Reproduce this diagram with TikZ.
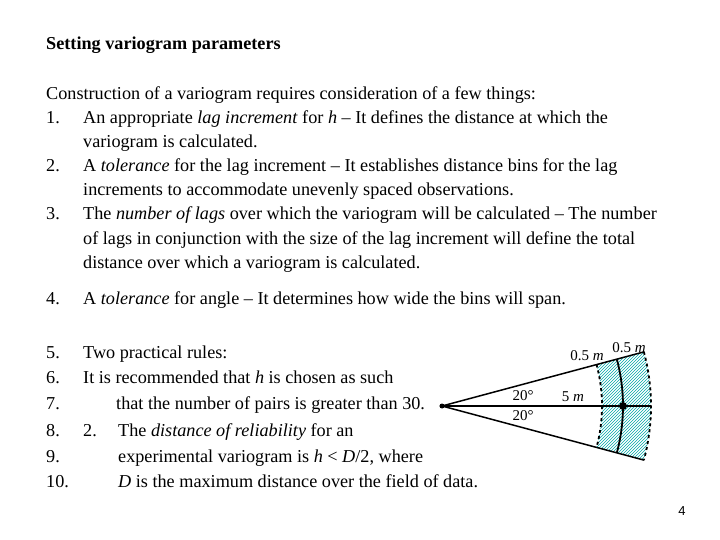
\documentclass[tikz,border=0pt]{standalone}
\usepackage{fontspec}
\setmainfont{Liberation Serif}
\newfontfamily\sansf{Liberation Sans}
\usetikzlibrary{patterns}
\begin{document}
\begin{tikzpicture}[x=1pt,y=-1pt,
  txt/.style={anchor=base west,inner sep=0pt,font=\fontsize{18.2}{20}\selectfont},
  lbl/.style={inner sep=0pt,font=\fontsize{15}{16}\selectfont},
  thick line/.style={line width=1.8pt}]
\useasboundingbox (0,0) rectangle (720,540);
\node[txt,font=\fontsize{18.2}{20}\selectfont\bfseries] (t) at (46,50) {Setting variogram parameters};
\node[txt] (l0) at (46,100) {Construction of a variogram requires consideration of a few things:};
\node[txt] (n1) at (46,124) {1.};
\node[txt] (a1) at (83,124) {An appropriate \textit{lag increment} for \textit{h} – It defines the distance at which the};
\node[txt] (a1b) at (83,148) {variogram is calculated.};
\node[txt] (n2) at (46,172) {2.};
\node[txt] (a2) at (83,172) {A \textit{tolerance} for the lag increment – It establishes distance bins for the lag};
\node[txt] (a2b) at (83,196) {increments to accommodate unevenly spaced observations.};
\node[txt] (n3) at (46,220) {3.};
\node[txt] (a3) at (83,220) {The \textit{number of lags} over which the variogram will be calculated – The number};
\node[txt] (a3b) at (83,244) {of lags in conjunction with the size of the lag increment will define the total};
\node[txt] (a3c) at (83,268) {distance over which a variogram is calculated.};
\node[txt] (n4) at (46,304) {4.};
\node[txt] (a4) at (83,304) {A \textit{tolerance} for angle – It determines how wide the bins will span.};
\node[txt] (n5) at (46,358) {5.};
\node[txt] (b5) at (83,358) {Two practical rules:};
\node[txt] (n6) at (46,383) {6.};
\node[txt] (b6) at (83,383) {It is recommended that \textit{h} is chosen as such};
\node[txt] (n7) at (46,409) {7.};
\node[txt] (b7) at (116,409) {that the number of pairs is greater than 30.};
\node[txt] (n8) at (46,436) {8.};
\node[txt] (m8) at (83,436) {2.};
\node[txt] (b8) at (118,436) {The \textit{distance of reliability} for an};
\node[txt] (n9) at (46,462) {9.};
\node[txt] (b9) at (118,462) {experimental variogram is \textit{h} < \textit{D}/2, where};
\node[txt] (n10) at (46,487) {10.};
\node[txt] (b10) at (118,487) {\textit{D} is the maximum distance over the field of data.};
\node[inner sep=0pt,font=\sansf\fontsize{13}{15}\selectfont] (pg) at (682,511) {4};
% diagram
\coordinate (o) at (442,406);
\def\ang{15}
\fill[pattern=north east lines,pattern color=teal!70!cyan] ([shift={(-\ang:160)}]o) arc[start angle=-\ang,end angle=\ang,radius=160]
  -- ([shift={(\ang:209)}]o) arc[start angle=\ang,end angle=-\ang,radius=209] -- cycle;
\draw[thick line,dashed] ([shift={(-\ang:160)}]o) arc[start angle=-\ang,end angle=\ang,radius=160];
\draw[thick line] ([shift={(-\ang:181)}]o) arc[start angle=-\ang,end angle=\ang,radius=181];
\draw[thick line,dashed] ([shift={(-\ang:209)}]o) arc[start angle=-\ang,end angle=\ang,radius=209];
\coordinate (e1) at ([shift={(\ang:209)}]o);
\coordinate (e2) at ([shift={(-\ang:209)}]o);
\coordinate (ec) at ([shift={(0:209)}]o);
\draw[line width=1.5pt] (e1) -- (o) -- (e2);
\draw[line width=1.5pt] (o) -- (ec);
\fill (o) circle (2.5);
\node[circle,fill,inner sep=0pt,minimum size=8pt] (pt) at (623,406) {};
\node[lbl] (g1) at (523,396) {20°};
\node[lbl] (g2) at (523,416) {20°};
\node[lbl] (d5) at (573,397) {5 \textit{m}};
\node[lbl] (h1) at (587,356) {0.5 \textit{m}};
\node[lbl] (h2) at (629,348) {0.5 \textit{m}};
\end{tikzpicture}
\end{document}
